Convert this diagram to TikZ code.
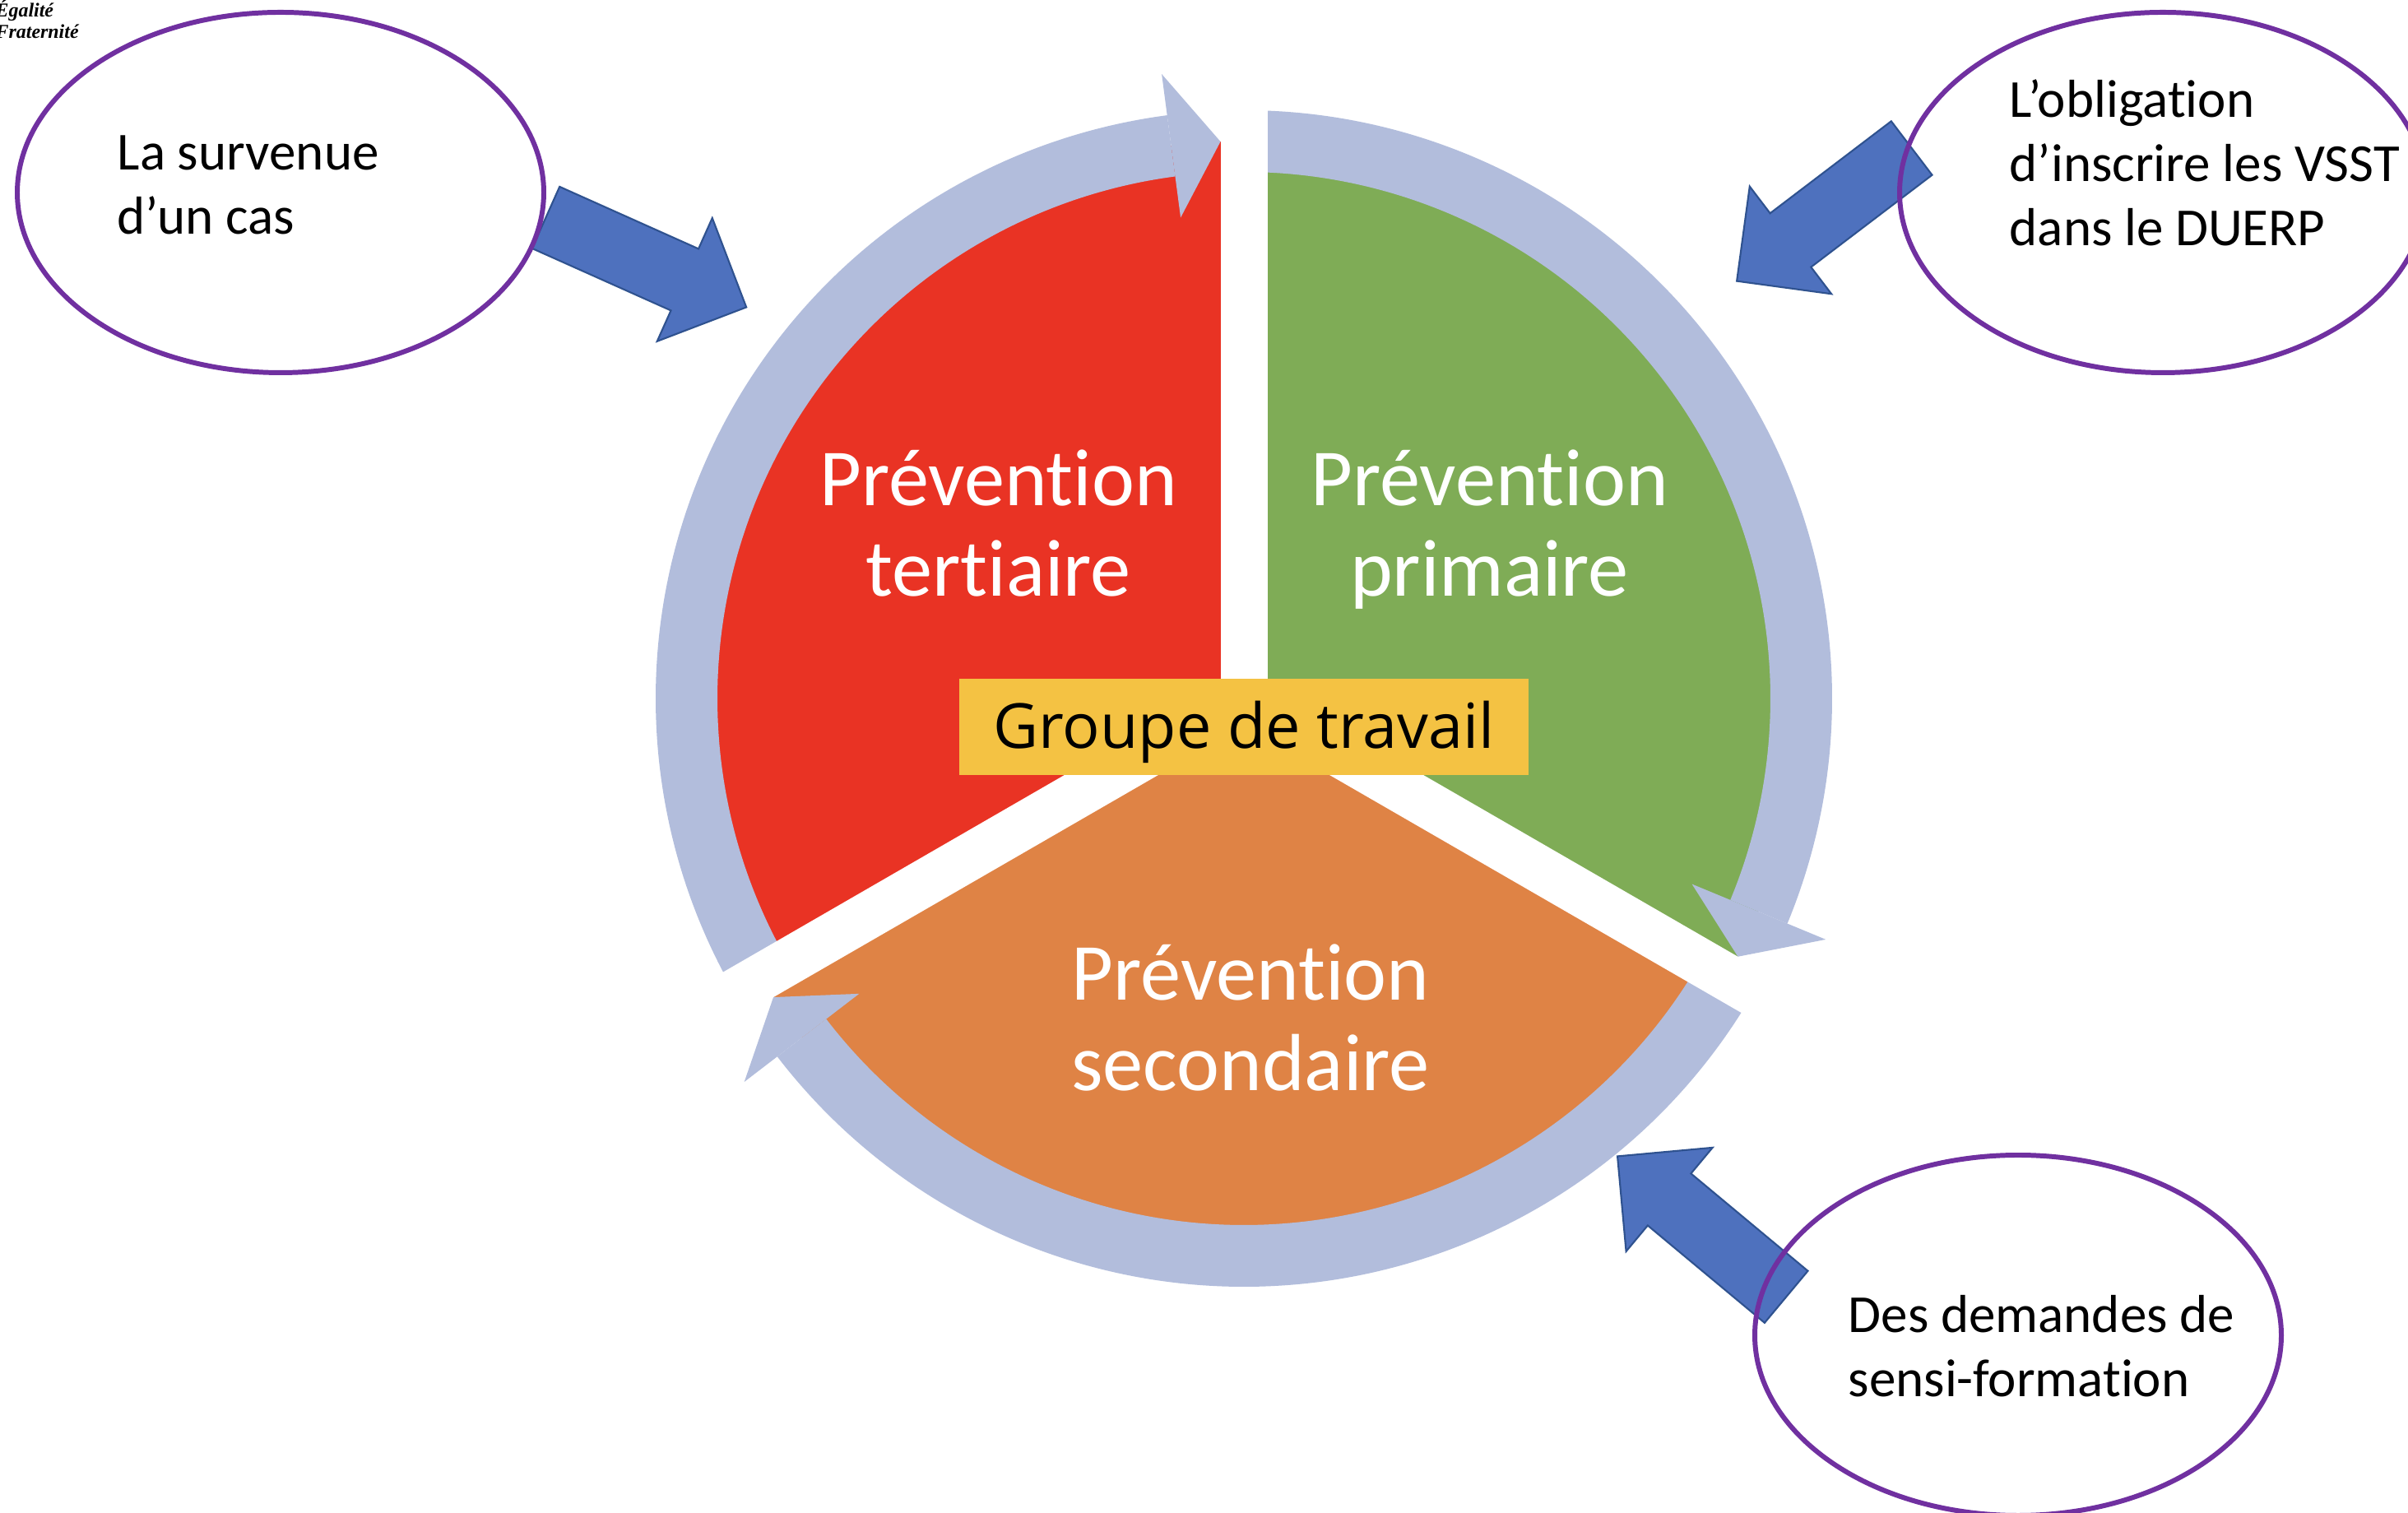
\documentclass[tikz,border=0pt]{standalone}
\usepackage{fontspec}
\setmainfont{Carlito}[Ligatures=NoCommon]
\newfontfamily\groupefont{Open Sans}
\newfontfamily\devisefont{Liberation Serif}
\usetikzlibrary{positioning,shapes.geometric,shapes.arrows}

\definecolor{rougeT}{HTML}{E93324}
\definecolor{vertP}{HTML}{7FAC56}
\definecolor{orangeS}{HTML}{DF8345}
\definecolor{anneauB}{HTML}{B2BDDC}
\definecolor{jauneG}{HTML}{F4C243}
\definecolor{bleuF}{HTML}{4E71BE}
\definecolor{bleuBord}{HTML}{2F528F}
\definecolor{violetB}{HTML}{7030A0}

\tikzset{bulle/.style = {ellipse,draw=violetB,line width=1.7pt,minimum width=6.4cm,minimum height=4.38cm,inner sep=0pt}}
\tikzset{txtbulle/.style = {anchor=base west,align=left,inner sep=0pt,font=\fontsize{18.5pt}{22.3pt}\selectfont}}
\tikzset{txtsecteur/.style = {anchor=base,align=center,inner sep=0pt,text=white,font=\fontsize{28pt}{31.3pt}\selectfont}}
\tikzset{fleche/.style = {single arrow,draw=bleuBord,fill=bleuF,line width=0.6pt,single arrow head extend=0.41cm,single arrow tip angle=90,inner sep=0.4cm,minimum height=2.67cm,anchor=tail}}

\begin{document}
\begin{tikzpicture}
    \path[use as bounding box,fill=white] (0,0) rectangle (29.27,18.39);
    \coordinate (C) at (15.12,9.90);

    \begin{scope}[shift={(C)}]
        % les trois secteurs
        \fill[rougeT] (0,0) -- (210:6.775) arc[start angle=210,end angle=90,radius=6.775] -- cycle;
        \fill[vertP] (0,0) -- (90:6.775) arc[start angle=90,end angle=-30,radius=6.775] -- cycle;
        \fill[orangeS] (0,0) -- (-30:6.775) arc[start angle=-30,end angle=-150,radius=6.775] -- cycle;

        % anneau fléché autour de chaque secteur
        \foreach \a/\b/\t in {210/97.5/92.41, 90/-22.5/-27.59, -30/-142.5/-147.59} {
            \fill[anneauB] (\a:7.15) arc[start angle=\a,end angle=\b,radius=7.15]
                -- (\b:6.40) arc[start angle=\b,end angle=\a,radius=6.40] -- cycle;
            \fill[anneauB] (\b:5.895) -- (\b:7.655) -- (\t:6.775) -- cycle;
        }

        % séparations blanches
        \foreach \a in {90,210,330}
            \draw[white,line width=0.57cm] (0,0) -- (\a:7.8);
    \end{scope}

    \node[fill=jauneG,minimum width=6.92cm,minimum height=1.17cm,text height=0.65cm,text depth=0.12cm,
          font=\groupefont\fontsize{21.5pt}{25pt}\selectfont] (groupe) at (15.12,9.555) {Groupe de travail};

    \node[txtsecteur] (tertiaire) at (12.135,11.14) {Prévention\\tertiaire};
    \node[txtsecteur] (primaire) at (18.105,11.14) {Prévention\\primaire};
    \node[txtsecteur] (secondaire) at (15.20,5.13) {Prévention\\secondaire};

    % flèches bleues vers le cycle
    \node[fleche,rotate=-24.1] (flecheCas) at (6.625,15.75) {};
    \node[fleche,rotate=217.25] (flecheDuerp) at (23.245,16.596) {};
    \node[fleche,rotate=140.2] (flecheSensi) at (21.72,2.62) {};

    % les bulles
    \node[bulle] (cas) at (3.41,16.05) {};
    \node[bulle] (duerp) at (26.29,16.05) {};
    \node[bulle] (sensi) at (24.53,2.16) {};

    \node[txtbulle] (casTxt) at (1.42,15.545) {La survenue\\d’un cas};
    \node[txtbulle] (duerpTxt) at (24.42,15.40) {L’obligation\\d’inscrire les VSST\\dans le DUERP};
    \node[txtbulle] (sensiTxt) at (22.46,1.415) {Des demandes de\\sensi-formation};

    \node[anchor=base west,align=left,inner sep=0pt,font=\devisefont\bfseries\itshape\fontsize{6.8pt}{7.4pt}\selectfont]
        (devise) at (-0.06,17.92) {Égalité\\Fraternité};
\end{tikzpicture}
\end{document}
